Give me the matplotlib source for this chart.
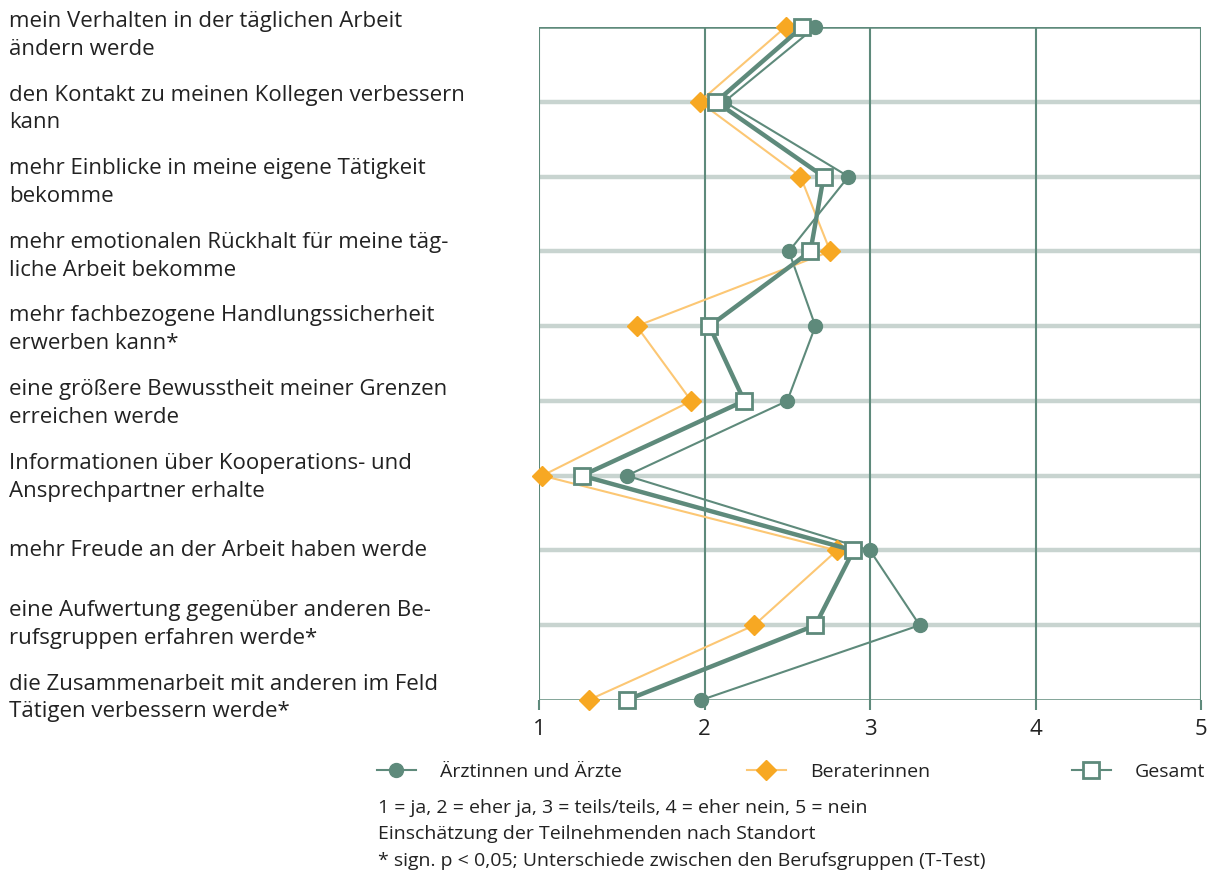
import matplotlib
matplotlib.use("Agg")
import matplotlib.pyplot as plt
from matplotlib.lines import Line2D
from matplotlib.transforms import blended_transform_factory

plt.rcParams["font.family"] = ["Open Sans", "DejaVu Sans"]

# data (1 = ja ... 5 = nein), rows top to bottom
items = [
    "mein Verhalten in der täglichen Arbeit\nändern werde",
    "den Kontakt zu meinen Kollegen verbessern\nkann",
    "mehr Einblicke in meine eigene Tätigkeit\nbekomme",
    "mehr emotionalen Rückhalt für meine täg-\nliche Arbeit bekomme",
    "mehr fachbezogene Handlungssicherheit\nerwerben kann*",
    "eine größere Bewusstheit meiner Grenzen\nerreichen werde",
    "Informationen über Kooperations- und\nAnsprechpartner erhalte",
    "mehr Freude an der Arbeit haben werde",
    "eine Aufwertung gegenüber anderen Be-\nrufsgruppen erfahren werde*",
    "die Zusammenarbeit mit anderen im Feld\nTätigen verbessern werde*",
]
aerzte = [2.67, 2.12, 2.87, 2.51, 2.67, 2.50, 1.53, 3.00, 3.30, 1.98]
berater = [2.49, 1.97, 2.58, 2.76, 1.59, 1.92, 1.02, 2.80, 2.30, 1.30]
gesamt = [2.59, 2.07, 2.72, 2.64, 2.03, 2.24, 1.26, 2.90, 2.67, 1.53]
xticks = [1, 2, 3, 4, 5]
notes = [
    "1 = ja, 2 = eher ja, 3 = teils/teils, 4 = eher nein, 5 = nein",
    "Einschätzung der Teilnehmenden nach Standort",
    "* sign. p < 0,05; Unterschiede zwischen den Berufsgruppen (T-Test)",
]

GREEN = "#5e8a7b"
ORANGE = "#f7a823"
ORANGE_LINE = "#fcc774"
GRID = "#c8d4d0"
TEXT = "#222222"

W, H = 1211, 880
fig = plt.figure(figsize=(W / 100, H / 100), dpi=100)
ax = fig.add_axes([539 / W, 1 - 700 / H, (1201 - 539) / W, (700 - 27) / H])

rows = list(range(len(items)))
ax.set_xlim(1, 5)
ax.set_ylim(len(items) - 1, 0)

for r in rows[1:-1]:
    ax.axhline(r, color=GRID, lw=3.2, zorder=1)
for x in xticks:
    ax.axvline(x, color=GREEN, lw=1.5, zorder=2)
ax.axhline(0, color=GREEN, lw=1.8, zorder=2)
ax.axhline(len(items) - 1, color=GREEN, lw=1.8, zorder=2)

ax.plot(aerzte, rows, color=GREEN, lw=1.5, marker="o", ms=10,
        mfc=GREEN, mec=GREEN, zorder=4, clip_on=False)
ax.plot(berater, rows, color=ORANGE_LINE, lw=1.5, marker="D", ms=10,
        mfc=ORANGE, mec=ORANGE, zorder=5, clip_on=False)
ax.plot(gesamt, rows, color=GREEN, lw=3.2, marker="s", ms=11.5,
        mfc="white", mec=GREEN, mew=2, zorder=6, clip_on=False)

for s in ax.spines.values():
    s.set_visible(False)
ax.set_yticks([])
ax.set_xticks(xticks)
ax.set_xticklabels([str(x) for x in xticks], fontsize=16, color=TEXT)
ax.tick_params(axis="x", length=7.5, width=1.5, color=GREEN, pad=6)

# labels sit on a slightly tighter pitch than the rows
trans = blended_transform_factory(fig.transFigure, ax.transData)
for r, label in zip(rows, items):
    ax.text(9 / W, 0.11 + r * 0.985, label, transform=trans, ha="left",
            va="center", fontsize=16, color=TEXT, linespacing=1.42)

handles = [
    (Line2D([], [], color=GREEN, lw=1.5, marker="o", ms=10, mfc=GREEN, mec=GREEN),
     "Ärztinnen und Ärzte", 377),
    (Line2D([], [], color=ORANGE_LINE, lw=1.5, marker="D", ms=10, mfc=ORANGE, mec=ORANGE),
     "Beraterinnen", 747),
    (Line2D([], [], color=GREEN, lw=1.5, marker="s", ms=11, mfc="white", mec=GREEN, mew=2),
     "Gesamt", 1072),
]
for h, lab, x0 in handles:
    fig.legend([h], [lab], loc="center left", bbox_to_anchor=(x0 / W, 1 - 772 / H),
               frameon=False, fontsize=14, handlelength=2.0, handletextpad=1.25,
               borderpad=0, borderaxespad=0, labelcolor=TEXT)

for y, note in zip([808, 834, 861], notes):
    fig.text(378 / W, 1 - y / H, note, fontsize=14, color=TEXT,
             ha="left", va="center")

fig.savefig("out.png", dpi=100)
